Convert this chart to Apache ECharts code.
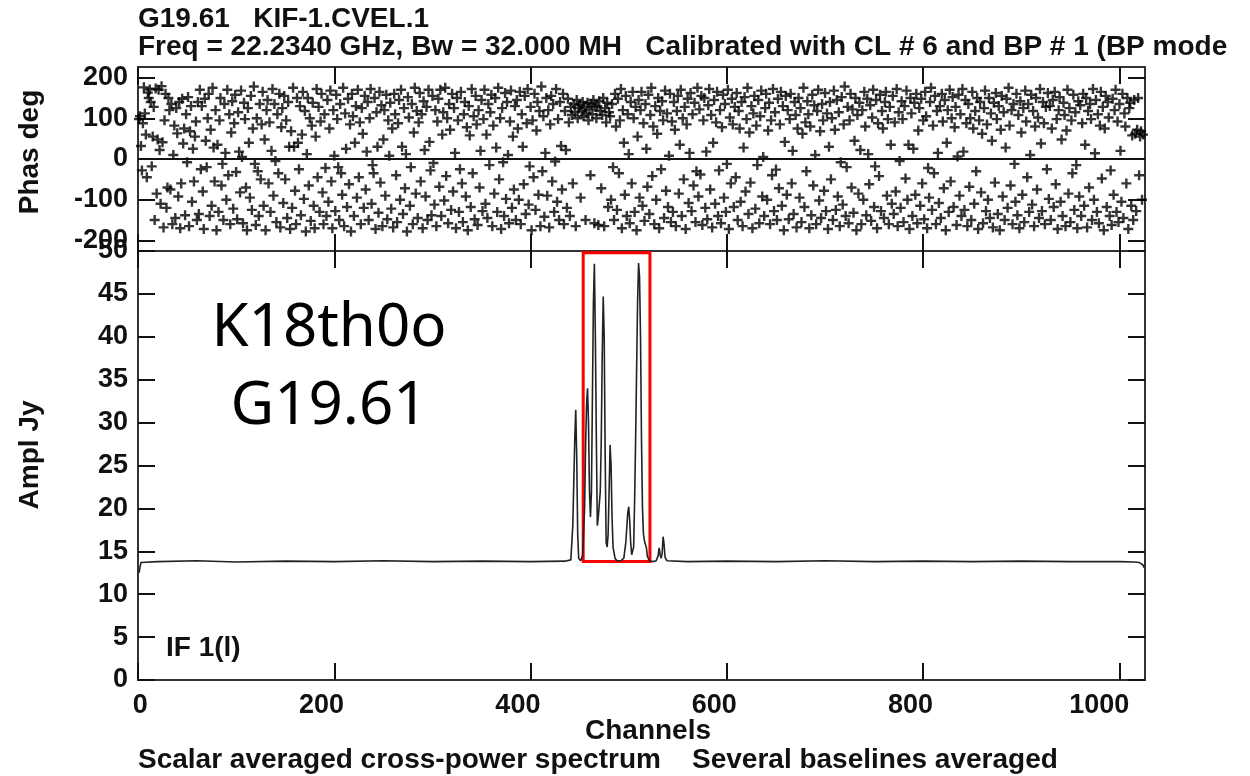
<!DOCTYPE html>
<html>
<head>
<meta charset="utf-8">
<title>G19.61 KIF-1.CVEL.1</title>
<script src="https://cdn.jsdelivr.net/npm/echarts@6/dist/echarts.min.js"></script>
<style>
  html, body { margin: 0; padding: 0; background: #ffffff; }
  #chart { width: 1250px; height: 776px; }
</style>
</head>
<body>
<div id="chart"></div>
<script>
// tick values
var chanTicks = [0, 200, 400, 600, 800, 1000]
var phaseTicks = [-200, -100, 0, 100, 200]
var amplTicks = [0, 5, 10, 15, 20, 25, 30, 35, 40, 45, 50]

// phase (deg) per channel, channel = index + 1
var phaseDeg = [
  98, 105, 32, -28, 88, 176, 112, 60, -45, 163, 150, 171, 140, -18, 55, 128, -150, 173, -85, 48, 170, 22, -110, 179, 41, -168, 95, 160, -120, -70, 150, 120,
  -75, 135, -160, 10, 82, -145, 125, 63, -92, 140, -170, -60, 148, 38, 75, -138, 110, -8, 152, -165, 68, 130, -105, 25, -55, 55, 92, -150, 140, -135, 170, -25,
  130, -80, -172, 148, 45, -20, 100, 160, -140, 72, -115, 175, 28, -55, 120, -175, 35, -130, 95, 150, -65, -12, -150, 135, 15, -100, 170, -40, 110, -160, 65, 142,
  -122, 88, 158, -32, -148, 115, 18, -82, 168, 5, -158, 138, 98, -70, -175, 125, 40, -95, 155, -125, 75, 178, -12, -162, 100, -30, -140, 135, -50, 85, 165, -115,
  48, -175, 120, 145, -60, 90, -130, 20, 172, -90, 135, -5, -155, 110, -35, 160, -168, 78, 125, -108, 155, -50, 95, -145, 140, 30, -172, 68, -120, 175, 30, -78,
  -160, 150, 40, -25, 130, -138, 60, 165, -98, 118, -178, 12, 150, -65, 100, -152, 82, 138, -115, -170, 55, 172, -45, 128, -130, 92, 160, -82, -160, 110, -22, -140,
  145, -105, 75, 168, -55, -170, 120, 8, -128, 158, 98, -20, -150, 135, -35, -88, 175, -165, 112, 25, -118, 148, -62, 85, -178, 160, 105, -140, 40, 130, -95, 170,
  -45, 90, -160, 125, 62, -120, 155, -75, 18, 140, -150, 100, 172, -110, -15, -35, 150, -172, 115, 30, -132, 165, -58, 132, -165, 48, 120, -90, 158, -148, 95, 8,
  138, -122, 75, -168, 160, 110, -40, -155, 88, 145, -100, 170, 30, -135, 125, -72, 12, -178, 152, 102, -115, -20, 135, -160, 65, 175, -85, 118, -145, 90, 162, -55,
  110, -170, 142, 22, -92, 128, -150, 170, 42, -28, -138, 155, -10, -112, 120, -165, 92, 148, -68, 170, -140, 60, 115, -102, 175, -42, 100, -158, 135, 72, -125, 160,
  -80, 125, 15, -170, 150, 95, -130, -25, 165, -60, -155, 110, 140, -92, 78, -175, 130, 58, -118, 172, -35, 105, -148, 155, 85, -162, 120, -70, 20, 145, -128, 98,
  170, -110, 60, -145, 135, -15, 115, 158, -165, 82, -85, 150, 28, -130, 175, -50, 100, -172, 125, -8, -140, 162, -98, 140, 10, -158, 92, 168, -120, 55, -75, 130,
  -150, 145, 75, -100, 165, -160, 110, 30, -62, 155, -135, 88, 172, -112, -18, 128, -175, 95, -45, 160, -125, 70, 140, -88, 118, -165, 178, -30, 105, -142, 15, 150,
  -90, 120, -168, 85, 155, -55, 135, -130, -6, 172, -105, 98, -150, 140, 32, -75, 160, -160, 118, 22, -120, 148, 90, -140, 128, 108, -60, 135, 115, -165, 145, 100,
  125, 132, -95, 118, 140, 105, 128, -150, 112, 138, 95, 122, -40, 135, 110, 145, -158, 128, 100, 130, -162, 142, 118, -72, 108, 150, -165, 125, 90, 138, -118, 115,
  105, -100, 135, -20, -150, 160, 80, -125, 148, -35, 95, 172, -170, 120, 40, -88, 155, -140, 110, 12, -158, 140, -60, 165, 100, -130, 128, -175, 55, 145, -95, 120,
  165, -115, 88, -152, 135, 25, -68, 158, -135, 108, 175, -42, 80, -160, 130, -100, 62, 150, -170, 118, -25, 142, 95, -145, 168, -78, 112, -118, 8, 160, -155, 92,
  -130, 140, 72, -165, 118, 155, -85, 35, 170, -140, 100, -50, 128, -172, 85, 148, -108, 15, 162, -128, 110, -65, 138, -155, -30, 175, -92, 122, -38, 155, -162, 95,
  150, -120, 18, -148, 132, 172, -75, 108, -168, 40, 145, -110, 90, 165, -140, -28, 120, -158, 78, 158, -95, 135, -130, -12, 170, -172, 102, -60, 148, 85, -118, 128,
  -45, 162, -150, 118, 75, -105, 140, -165, 28, 152, -80, 98, 175, -135, 65, -58, 130, -170, 112, 155, -122, 82, -15, 145, -158, 105, 168, -92, 5, -140, 125, 160,
  -100, 70, 138, -160, 95, -40, 172, -128, 115, -26, -150, 148, -72, 85, 165, -115, 130, -175, 42, 155, -88, 120, -148, 98, 160, -60, 20, -135, 140, 108, -168, 75,
  150, -95, 125, -155, 62, 175, -118, 90, -30, 142, 110, -170, 80, -138, 158, -65, 132, 10, -160, 118, 170, -102, 68, -145, 135, 95, -78, 162, -128, 112, -172, 30,
  140, -50, 100, -150, 168, 72, -125, 145, -92, 115, -165, -8, 152, -112, 85, 178, -140, -20, 128, -158, 95, 160, -70, 122, -132, 45, 150, -175, 108, -85, 138, 22,
  -160, 120, -100, 165, 80, -138, 148, 12, -62, 132, -152, 102, 170, -118, -18, 145, -170, 88, -42, 158, -128, 118, 75, -145, 140, 165, -90, 98, -160, 128, 35, -110,
  155, -135, 90, -80, 172, -165, 115, -5, -120, 142, 98, -155, 130, -48, 168, -100, 35, -172, 150, 112, -140, 25, 138, -88, 160, -158, 70, 125, -115, 148, -60, 95,
  -148, 165, 105, -170, -22, -95, 140, 175, -125, 82, -35, 155, -160, 118, 15, -108, 130, -145, 160, 92, -72, 145, -175, 40, 120, -130, 170, -55, 100, 152, -118, 78,
  128, -162, 6, 158, -90, 110, -140, 172, 18, -125, 145, 88, -165, 135, -68, 100, -150, 165, 75, -110, 118, -30, 150, -172, 95, 140, -82, 62, -158, 125, 168, -128,
  85, -100, 150, -145, 112, 45, -168, 138, -58, 162, 98, -135, 130, -175, 72, 155, -92, 115, -150, 28, 148, -120, 175, 82, -65, 120, -160, 135, -12, -105, 160, -138,
  108, -170, 142, 65, -88, 125, -155, 168, 92, -45, 135, -130, 10, 158, -112, 118, -165, 80, 150, -75, 102, -145, 172, 38, -128, 140, 88, -160, 128, -25, 162, -98,
  130, -150, 75, 145, -118, 165, -62, 98, -172, 120, 152, -105, 48, -140, 138, 108, -165, 70, 170, -85, 125, -155, 95, -35, 158, -125, 115, -15, -170, 142, -92, 132,
  -140, 88, 160, -115, 35, 150, -168, 118, -70, 135, 98, -150, 172, -100, 14, 145, -130, 110, -158, 82, 165, -48, 128, -175, 75, 155, -118, 140, 102, -140, -28, -162,
  148, -88, 120, 170, -130, 92, -155, 135, 20, -105, 160, -145, 112, 80, -60, 150, -172, 125, 138, -115, 58, -150, 145, 62, -128, 72, 150, -40, 55, 68, -100, 60
]

// scalar averaged amplitude [channel, Jy]
var amplSpectrum = [
  [1, 12.5], [3, 13.7], [20, 13.8], [60, 13.9], [100, 13.75], [150, 13.85], [200, 13.8], [250, 13.9],
  [300, 13.8], [350, 13.85], [400, 13.8], [435, 13.85], [441, 14.0], [443, 18], [445, 28], [446, 31.5],
  [447, 26], [448, 17], [449, 14.2], [451, 13.9], [453, 14.5], [455, 20], [456, 27], [457, 32],
  [458, 34], [459, 30], [460, 22], [461, 19], [462, 22], [463, 33], [464, 44], [465, 48.5],
  [466, 40], [467, 28], [468, 18], [469, 19], [470, 20.5], [471, 22], [472, 28], [473, 38],
  [474, 44.7], [475, 40], [476, 26], [477, 16], [478, 15.5], [479, 17], [480, 22], [481, 27.4],
  [482, 25], [483, 19], [484, 15.5], [486, 14.2], [488, 13.9], [492, 13.9], [495, 14.2], [497, 16],
  [499, 19.5], [500, 20.2], [501, 18.5], [502, 16], [503, 14.6], [504, 14.4], [505, 15.5], [506, 21],
  [507, 28], [508, 36], [509, 44], [510, 48.6], [511, 47], [512, 40], [513, 28], [514, 20],
  [515, 17], [516, 16.2], [517, 16.4], [518, 15.4], [519, 14.4], [521, 13.9], [525, 13.8], [528, 13.9],
  [530, 14.5], [531, 15.4], [532, 14.6], [533, 14.2], [534, 14.7], [535, 16.7], [536, 15.8], [537, 14.3],
  [539, 13.9], [560, 13.8], [600, 13.85], [650, 13.8], [700, 13.9], [750, 13.8], [800, 13.85], [850, 13.8],
  [900, 13.85], [950, 13.8], [1000, 13.8], [1015, 13.75], [1020, 13.7], [1024, 13.4], [1025, 13.1]
]

// red highlight box, data coords [channel, Jy]
var boxCorners = [[453.6, 49.8], [521.6, 13.8]]

var titleLine1 = 'G19.61   KIF-1.CVEL.1'
var titleLine2 = 'Freq = 22.2340 GHz, Bw = 32.000 MH   Calibrated with CL # 6 and BP # 1 (BP mode'
var footLine = 'Scalar averaged cross-power spectrum    Several baselines averaged'
var noteLines = ['K18th0o', 'G19.61']

var ink = '#111111'
var frameColor = '#333333'
var labelFont = 'Liberation Sans, Arial, sans-serif'
var textFont = 'bold 28px ' + labelFont

var phasePoints = []
for (let i = 0; i < phaseDeg.length; i++) {
    phasePoints.push([i + 1, phaseDeg[i]])
}

var tickStyle = { show: true, inside: true, length: 17, lineStyle: { color: ink, width: 2 } }
var labelStyle = { fontSize: 27, fontWeight: 'bold', color: ink, fontFamily: labelFont }

function plainNumber (v) {
    return String(v)
}

function chanAxis (gridIndex, position) {
    return {
        type: 'value', gridIndex: gridIndex, position: position, min: 0, max: 1026,
        axisLine: { show: false, onZero: false },
        axisTick: Object.assign({ customValues: chanTicks }, tickStyle),
        axisLabel: { show: false },
        splitLine: { show: false }
    }
}

var chart = echarts.init(document.getElementById('chart'))
var option = {
    backgroundColor: '#ffffff',
    animation: false,
    grid: [
        { left: 138, top: 67, width: 1007, height: 184, show: true, borderColor: frameColor, borderWidth: 2, backgroundColor: 'rgba(0,0,0,0)' },
        { left: 138, top: 251, width: 1007, height: 429, show: true, borderColor: frameColor, borderWidth: 2, backgroundColor: 'rgba(0,0,0,0)' }
    ],
    xAxis: [
        chanAxis(0, 'bottom'),
        chanAxis(0, 'top'),
        chanAxis(1, 'bottom'),
        chanAxis(1, 'top'),
        { // label only axis, AIPS puts the numbers a little left of the tick
            type: 'value', gridIndex: 1, position: 'bottom', min: -10, max: 1016,
            axisLine: { show: false, onZero: false },
            axisTick: { show: false },
            splitLine: { show: false },
            axisLabel: Object.assign({ customValues: chanTicks, align: 'right', margin: 12, formatter: plainNumber }, labelStyle)
        }
    ],
    yAxis: [
        {
            type: 'value', gridIndex: 0, position: 'left', min: -226, max: 226,
            axisLine: { show: false, onZero: false },
            axisTick: Object.assign({ customValues: phaseTicks }, tickStyle),
            axisLabel: Object.assign({ customValues: phaseTicks, margin: 10, formatter: plainNumber }, labelStyle),
            splitLine: { show: false }
        },
        {
            type: 'value', gridIndex: 0, position: 'right', min: -226, max: 226,
            axisLine: { show: false, onZero: false },
            axisTick: Object.assign({ customValues: phaseTicks }, tickStyle),
            axisLabel: { show: false },
            splitLine: { show: false }
        },
        {
            type: 'value', gridIndex: 1, position: 'left', min: 0, max: 50,
            axisLine: { show: false, onZero: false },
            axisTick: Object.assign({ customValues: amplTicks }, tickStyle),
            axisLabel: Object.assign({ customValues: amplTicks, margin: 10, formatter: plainNumber }, labelStyle),
            splitLine: { show: false }
        },
        {
            type: 'value', gridIndex: 1, position: 'right', min: 0, max: 50,
            axisLine: { show: false, onZero: false },
            axisTick: Object.assign({ customValues: amplTicks }, tickStyle),
            axisLabel: { show: false },
            splitLine: { show: false }
        }
    ],
    series: [
        {
            name: 'Phas',
            type: 'scatter',
            xAxisIndex: 0,
            yAxisIndex: 0,
            data: phasePoints,
            symbol: 'path://M3.8,0H6.2V3.8H10V6.2H6.2V10H3.8V6.2H0V3.8H3.8Z',
            symbolSize: 10,
            itemStyle: { color: '#000000' },
            clip: false,
            markLine: {
                silent: true,
                symbol: ['none', 'none'],
                label: { show: false },
                lineStyle: { color: ink, width: 2, type: 'solid' },
                data: [{ yAxis: 0 }]
            }
        },
        {
            name: 'Ampl',
            type: 'line',
            xAxisIndex: 2,
            yAxisIndex: 2,
            data: amplSpectrum,
            showSymbol: false,
            symbol: 'none',
            lineStyle: { color: '#222222', width: 1.6 },
            markArea: {
                silent: true,
                itemStyle: { color: 'rgba(0,0,0,0)', borderColor: '#ff0000', borderWidth: 3 },
                data: [[{ coord: boxCorners[0] }, { coord: boxCorners[1] }]]
            }
        }
    ],
    graphic: [
        { type: 'text', x: 138, y: 19, style: { text: titleLine1, font: textFont, fill: ink, verticalAlign: 'middle' } },
        { type: 'text', x: 138, y: 47, style: { text: titleLine2, font: textFont, fill: ink, verticalAlign: 'middle' } },
        { type: 'text', x: 30, y: 152, rotation: Math.PI / 2, style: { text: 'Phas deg', font: textFont, fill: ink, align: 'center', verticalAlign: 'middle' } },
        { type: 'text', x: 30, y: 455, rotation: Math.PI / 2, style: { text: 'Ampl Jy', font: textFont, fill: ink, align: 'center', verticalAlign: 'middle' } },
        { type: 'text', x: 166, y: 648, style: { text: 'IF 1(l)', font: textFont, fill: ink, verticalAlign: 'middle' } },
        { type: 'text', x: 648, y: 731, style: { text: 'Channels', font: textFont, fill: ink, align: 'center', verticalAlign: 'middle' } },
        { type: 'text', x: 138, y: 760, style: { text: footLine, font: textFont, fill: ink, verticalAlign: 'middle' } },
        { type: 'text', x: 329, y: 329, style: { text: noteLines[0], font: '60px Noto Sans, sans-serif', fill: '#000000', align: 'center', verticalAlign: 'middle' } },
        { type: 'text', x: 329, y: 407, style: { text: noteLines[1], font: '60px Noto Sans, sans-serif', fill: '#000000', align: 'center', verticalAlign: 'middle' } }
    ]
}
chart.setOption(option)
</script>
</body>
</html>
